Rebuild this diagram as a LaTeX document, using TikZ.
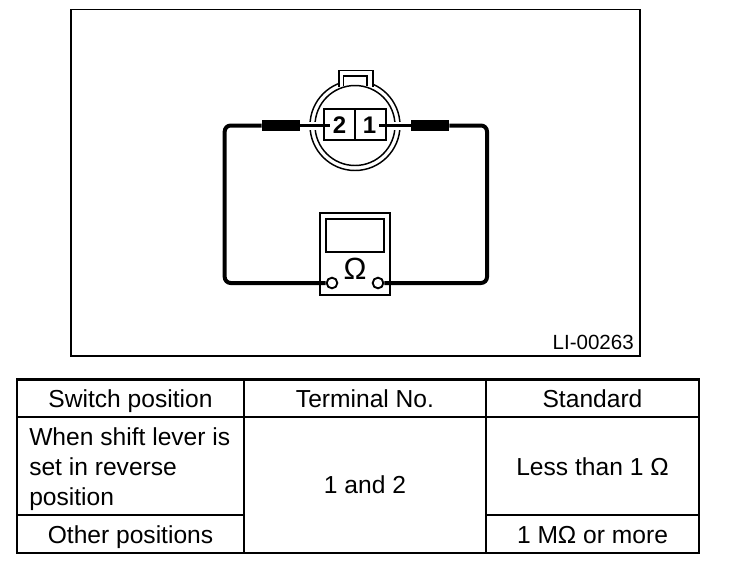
\documentclass[tikz,border=0pt]{standalone}
\usepackage{fontspec}
\setmainfont{Liberation Sans}
\tikzset{
  px/.style={x=0.75pt,y=-0.75pt},
  frameline/.style={draw=black,line width=1.4pt},
  tableline/.style={draw=black,line width=1.1pt},
  thickrow/.style={draw=black,line width=2pt},
  wire/.style={draw=black,line width=3pt,rounded corners=4.5pt},
  thin wire/.style={draw=black,line width=2.25pt},
  ring/.style={draw=black,line width=1.1pt},
  probe/.style={fill=black,draw=none,minimum width=28.5pt,minimum height=8.6pt,inner sep=0pt},
  terminal/.style={circle,draw=black,fill=white,line width=1.4pt,minimum size=8pt,inner sep=0pt},
  celltext/.style={font=\fontsize{18.45}{22}\selectfont,inner sep=0pt,anchor=base},
  lefttext/.style={celltext,anchor=base west},
  pin/.style={font=\fontsize{18}{20}\bfseries\selectfont,inner sep=2pt}
}
\begin{document}
\begin{tikzpicture}[px]
\useasboundingbox (0,0) rectangle (736,572);
\draw[frameline] (71,9.5) rectangle (640,356);
% connector rings
\draw[ring] (355,125.5) circle (45);
\draw[ring,fill=white] (339,87) -- (339,70.5) -- (373,70.5) -- (373,87);
\draw[ring] (355,125.5) circle (40);
\draw[ring] (343.5,86) -- (343.5,76) -- (367,76) -- (367,86);
\draw[draw=white,line width=6pt] (306,125.5) -- (319,125.5);
\draw[draw=white,line width=6pt] (391,125.5) -- (404,125.5);
\draw[ring] (324,109) rectangle (386,140);
\draw[ring] (355,109) -- (355,140);
% probes and wires
\node[probe] (pl) at (281,125.5) {};
\node[probe] (pr) at (430,125.5) {};
\node[pin] (t2) at (339.5,125.5) {2};
\node[pin] (t1) at (369.5,125.5) {1};
\draw[thin wire] (t2.west) -- (pl.east);
\draw[thin wire] (t1.east) -- (pr.west);
% meter
\node[draw=black,line width=1.5pt,minimum width=52pt,minimum height=61.5pt,inner sep=0pt] (meter) at (355,254) {};
\node[draw=black,line width=1.3pt,minimum width=43.5pt,minimum height=25pt,inner sep=0pt] (screen) at (355,235.5) {};
\node[font=\fontsize{23}{24}\selectfont,inner sep=0pt] (ohm) at (355,269) {Ω};
\node[terminal] (tl) at (332,283) {};
\node[terminal] (tr) at (378,283) {};
\draw[wire] (pl.west) -- (224.7,125.5) -- (224.7,283) -- (tl.west);
\draw[wire] (pr.east) -- (487,125.5) -- (487,283) -- (tr.east);
\node[font=\fontsize{15.4}{16}\selectfont,inner sep=0pt,anchor=base east] (code) at (634,349) {LI-00263};
% table
\draw[tableline,line width=1.8pt] (17,379.5) rectangle (699,553);
\draw[tableline] (17,417) -- (699,417);
\draw[tableline] (244,379.5) -- (244,553);
\draw[tableline] (486,379.5) -- (486,553);
\draw[thickrow] (17,515) -- (244,515);
\draw[thickrow] (486,515) -- (699,515);
\node[celltext] (h1) at (130.5,407) {Switch position};
\node[celltext] (h2) at (365,407) {Terminal No.};
\node[celltext] (h3) at (592.5,407) {Standard};
\node[lefttext] (a1) at (29,445) {When shift lever is};
\node[lefttext] (a2) at (29,475) {set in reverse};
\node[lefttext] (a3) at (29,505) {position};
\node[celltext] (b) at (130.5,543) {Other positions};
\node[celltext] (c) at (365,493) {1 and 2};
\node[celltext] (d) at (592.5,475) {Less than 1 Ω};
\node[celltext] (e) at (592.5,543) {1 MΩ or more};
\end{tikzpicture}
\end{document}
